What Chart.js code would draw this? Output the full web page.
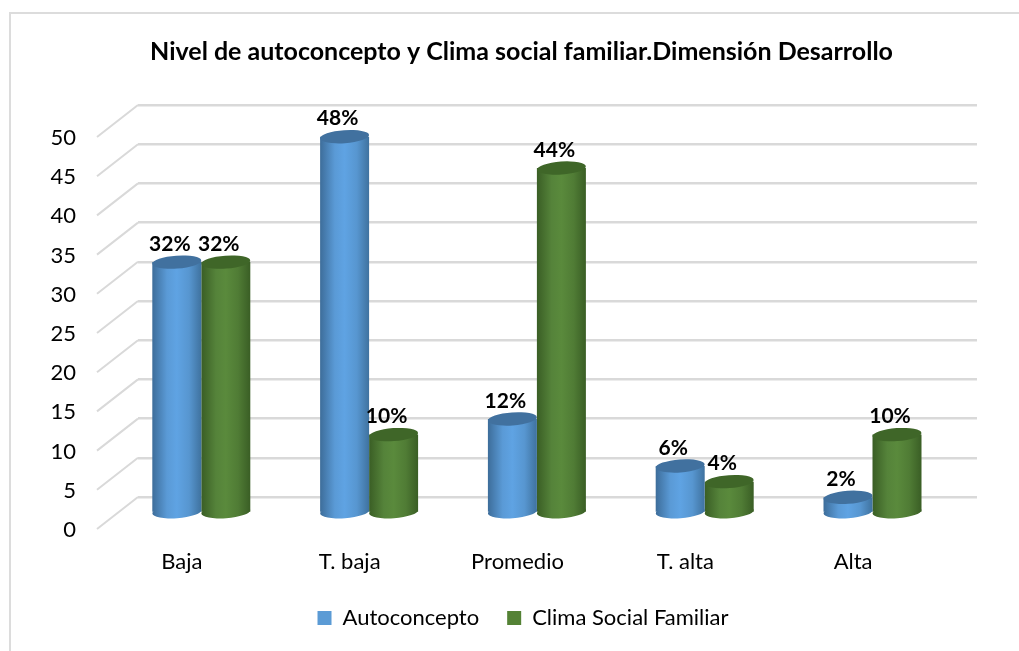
<!DOCTYPE html>
<html>
<head>
<meta charset="utf-8">
<title>Nivel de autoconcepto</title>
<script src="https://cdn.jsdelivr.net/npm/chart.js@4"></script>
<style>
    html, body { margin: 0; background: #fff; overflow: hidden; }
    #frame { position: absolute; left: 9px; top: 12px; right: 0; bottom: 0; border-left: 2px solid #dcdcdc; border-top: 2px solid #dcdcdc; }
    #chart { position: absolute; left: 0; top: 0; }
</style>
</head>
<body>
<div id="frame"></div>
<canvas id="chart" width="1019" height="651"></canvas>
<script>
const titleText = 'Nivel de autoconcepto y Clima social familiar.Dimensión Desarrollo';
const categories = ['Baja', 'T. baja', 'Promedio', 'T. alta', 'Alta'];
const autoconcepto = [32, 48, 12, 6, 2];
const climaSocial = [32, 10, 44, 4, 10];

const FONT = 'Lato, sans-serif';
const GRID = '#d9d9d9';
const BAR_DX = -20.6, BAR_DY = 16;   // bars stand in front of the back wall
const DEPTH_DX = -41, DEPTH_DY = 32; // side wall
const CAT_PCT = 0.584;

const blueStops = ['#3d6d9a', '#5a9ad6', '#5fa3e3', '#5796d0', '#3f729f'];
const greenStops = ['#3a5e25', '#55833a', '#5a8a3c', '#507c35', '#3a5e25'];

// horizontal cylinder shading, computed for each bar from the x scale
function cylinderFill(stops, side) {
    return function(c) {
        const x = c.chart.scales.x;
        if (!x) return stops[1];
        const w = x.width / categories.length * CAT_PCT / 2;
        const center = x.getPixelForValue(c.dataIndex) + side * w / 2;
        const g = c.chart.ctx.createLinearGradient(center - w / 2, 0, center + w / 2, 0);
        g.addColorStop(0, stops[0]);
        g.addColorStop(0.3, stops[1]);
        g.addColorStop(0.5, stops[2]);
        g.addColorStop(0.75, stops[3]);
        g.addColorStop(1, stops[4]);
        return g;
    };
}

function ellipseAt(ctx, bar, cy) {
    ctx.beginPath();
    ctx.ellipse(bar.x, cy, bar.width / 2, 6.5, -0.07, 0, Math.PI * 2);
    ctx.fill();
}

const wallPlugin = {
    id: 'wall',
    afterLayout(chart) {
        // tick labels are clipped to the scale box, so widen it to the left
        chart.scales.y.left = 40;
        chart.legend.left += 1.5;
        chart.legend.right += 1.5;
    },
    beforeDatasetsDraw(chart) {
        const ctx = chart.ctx, y = chart.scales.y;
        ctx.save();
        ctx.strokeStyle = GRID;
        ctx.lineWidth = 2;
        y.ticks.forEach(t => {
            const py = y.getPixelForValue(t.value);
            ctx.beginPath();
            ctx.moveTo(chart.chartArea.left, py);
            ctx.lineTo(chart.chartArea.left + DEPTH_DX, py + DEPTH_DY);
            ctx.stroke();
        });
        ctx.restore();
    }
};

const cylinderPlugin = {
    id: 'cylinder',
    beforeDatasetDraw(chart, args) {
        const ctx = chart.ctx;
        ctx.save();
        ctx.translate(BAR_DX, BAR_DY);
        args.meta.data.forEach(bar => {
            ctx.fillStyle = bar.options.backgroundColor;
            ellipseAt(ctx, bar, bar.base);
        });
    },
    afterDatasetDraw(chart, args) {
        const ctx = chart.ctx;
        args.meta.data.forEach(bar => {
            ctx.fillStyle = args.index === 0 ? '#41719f' : '#3f6628';
            ellipseAt(ctx, bar, bar.y);
        });
        ctx.restore();
    }
};

const labelPlugin = {
    id: 'valueLabels',
    afterDatasetsDraw(chart) {
        const ctx = chart.ctx;
        ctx.save();
        ctx.font = 'bold 21px ' + FONT;
        ctx.fillStyle = '#000';
        ctx.textAlign = 'center';
        ctx.textBaseline = 'middle';
        chart.data.datasets.forEach((ds, i) => {
            chart.getDatasetMeta(i).data.forEach((bar, j) => {
                ctx.fillText(ds.data[j] + '%', bar.x + BAR_DX - 7, bar.y + BAR_DY - 18);
            });
        });
        ctx.restore();
    }
};

new Chart(document.getElementById('chart'), {
    type: 'bar',
    data: {
        labels: categories,
        datasets: [{
            label: 'Autoconcepto',
            data: autoconcepto,
            backgroundColor: cylinderFill(blueStops, -1),
            clip: false
        }, {
            label: 'Clima Social Familiar',
            data: climaSocial,
            backgroundColor: cylinderFill(greenStops, 1),
            clip: false
        }]
    },
    options: {
        responsive: false,
        animation: false,
        layout: { padding: { left: 66, right: 42, top: 0, bottom: 12 } },
        datasets: { bar: { categoryPercentage: CAT_PCT, barPercentage: 1 } },
        scales: {
            x: {
                grid: { display: false },
                border: { display: false },
                ticks: { font: { family: FONT, size: 22 }, color: '#000', padding: 44, labelOffset: -40, maxRotation: 0 },
                afterFit: s => { s.height = 82; }
            },
            y: {
                min: 0,
                max: 50,
                grid: { color: GRID, lineWidth: 2.5, drawTicks: false },
                border: { display: false },
                ticks: { stepSize: 5, font: { family: FONT, size: 22 }, color: '#000', padding: 62, labelOffset: 33 },
                afterFit: s => { s.width = 72; }
            }
        },
        plugins: {
            title: {
                display: true,
                text: titleText,
                color: '#000',
                font: { family: FONT, size: 25, weight: 'bold' },
                padding: { top: 37, bottom: 38 }
            },
            legend: {
                position: 'bottom',
                labels: {
                    boxWidth: 14,
                    boxHeight: 14,
                    padding: 28,
                    color: '#000',
                    font: { family: FONT, size: 22 },
                    generateLabels(chart) {
                        return chart.data.datasets.map((ds, i) => ({
                            text: ds.label,
                            fillStyle: ['#5b9bd5', '#548235'][i],
                            strokeStyle: 'transparent',
                            lineWidth: 0,
                            datasetIndex: i
                        }));
                    }
                }
            },
            tooltip: { enabled: false }
        }
    },
    plugins: [wallPlugin, cylinderPlugin, labelPlugin]
});
</script>
</body>
</html>
